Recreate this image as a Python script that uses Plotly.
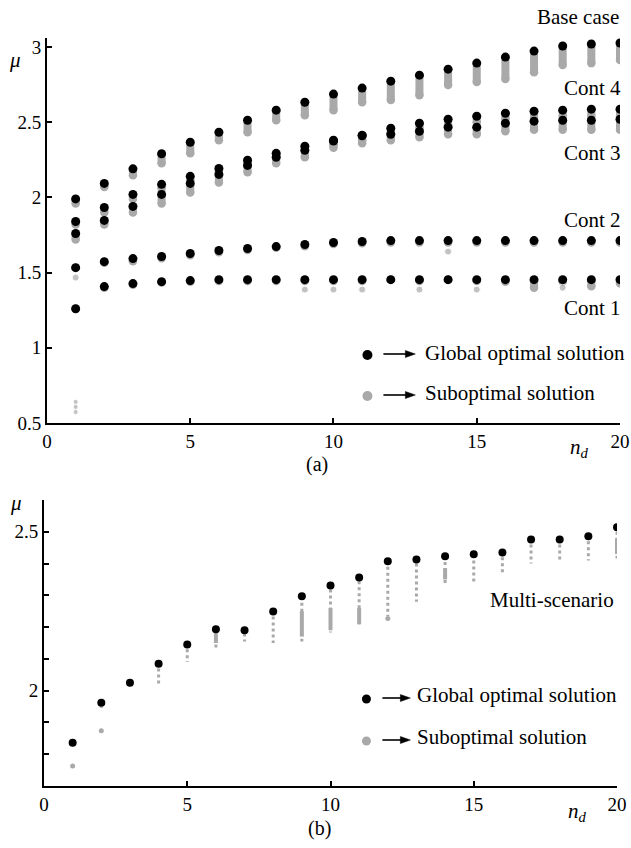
import plotly.graph_objects as go

# ---------------- data: panel (a) ----------------
nd = list(range(1, 21))
base_opt = [1.99, 2.093, 2.19, 2.29, 2.367, 2.433, 2.513, 2.58, 2.633, 2.687,
            2.727, 2.773, 2.813, 2.853, 2.893, 2.933, 2.973, 3.007, 3.02, 3.027]
cont4_opt = [1.84, 1.933, 2.02, 2.087, 2.14, 2.193, 2.247, 2.293, 2.34, 2.38,
             2.413, 2.46, 2.493, 2.52, 2.54, 2.56, 2.573, 2.58, 2.587, 2.587]
cont3_opt = [1.76, 1.847, 1.94, 2.02, 2.093, 2.153, 2.213, 2.267, 2.313, 2.375,
             2.41, 2.42, 2.44, 2.467, 2.467, 2.493, 2.507, 2.513, 2.513, 2.52]
cont2_opt = [1.533, 1.573, 1.593, 1.607, 1.627, 1.647, 1.66, 1.673, 1.687, 1.70,
             1.707, 1.713, 1.713, 1.713, 1.713, 1.713, 1.713, 1.713, 1.713, 1.713]
cont1_opt = [1.26, 1.407, 1.427, 1.44, 1.447, 1.453, 1.453, 1.453, 1.453, 1.453,
             1.453, 1.453, 1.453, 1.453, 1.453, 1.453, 1.453, 1.453, 1.453, 1.453]

# lowest suboptimal value of each connected chain
base_sub_low = [1.96, 2.07, 2.147, 2.227, 2.293, 2.38, 2.433, 2.513, 2.547, 2.58,
                2.633, 2.647, 2.68, 2.747, 2.767, 2.787, 2.833, 2.88, 2.893, 2.913]
cont4_sub_low = [1.82, 1.90, 1.99, 2.06, 2.11, 2.17, 2.22, 2.27, 2.31, 2.35,
                 2.38, 2.43, 2.46, 2.48, 2.50, 2.52, 2.53, 2.54, 2.54, 2.54]
cont3_sub_low = [1.72, 1.82, 1.90, 1.96, 2.033, 2.10, 2.167, 2.227, 2.267, 2.33,
                 2.36, 2.38, 2.40, 2.42, 2.42, 2.44, 2.45, 2.45, 2.45, 2.45]
cont2_sub_low = [1.533, 1.565, 1.575, 1.595, 1.615, 1.635, 1.65, 1.665, 1.675, 1.69,
                 1.695, 1.70, 1.70, 1.70, 1.70, 1.70, 1.70, 1.70, 1.70, 1.70]
cont1_sub_low = [1.26, 1.40, 1.42, 1.435, 1.44, 1.445, 1.445, 1.445, 1.445, 1.445,
                 1.445, 1.453, 1.445, 1.453, 1.445, 1.44, 1.40, 1.44, 1.41, 1.43]

# isolated suboptimal points in (a)
a_iso_nd = [1, 1, 1, 1, 14, 9, 10, 11, 13, 15, 18]
a_iso_mu = [1.467, 0.64, 0.607, 0.573, 1.64, 1.387, 1.387, 1.387, 1.387, 1.387, 1.40]
a_iso_big = [True, False, False, False, True, True, True, True, True, True, True]

# ---------------- data: panel (b) ----------------
multi_opt = [1.836, 1.962, 2.025, 2.085, 2.145, 2.193, 2.19, 2.249, 2.297, 2.331,
             2.356, 2.407, 2.413, 2.423, 2.429, 2.435, 2.476, 2.476, 2.486, 2.514]
multi_sub_top = [None, 1.95, 1.972, 2.07, 2.13, 2.183, 2.18, 2.233, 2.277, 2.318,
                 2.344, 2.39, 2.40, 2.405, 2.41, 2.42, 2.46, 2.46, 2.47, 2.50]
multi_sub_low = [None, 1.946, 1.972, 2.02, 2.09, 2.136, 2.155, 2.15, 2.155, 2.183,
                 2.208, 2.235, 2.28, 2.33, 2.34, 2.372, 2.40, 2.41, 2.41, 2.416]
# dense parts of suboptimal columns
dense_nd = [6, 9, 10, 11, 14, 20]
dense_top = [2.18, 2.25, 2.26, 2.26, 2.385, 2.48]
dense_low = [2.15, 2.17, 2.19, 2.21, 2.35, 2.43]
b_iso_nd = [1, 2, 12]
b_iso_mu = [1.763, 1.874, 2.227]

GREY = "#a9a9a9"
FONT = "Liberation Serif"

fig = go.Figure()


def chain(xs, tops, lows):
    X, Y = [], []
    for x, t, l in zip(xs, tops, lows):
        if t is None or l is None:
            continue
        X += [x, x, None]
        Y += [t, l, None]
    return X, Y


# ---- panel (a) suboptimal chains ----
for opt, low in [(base_opt, base_sub_low), (cont4_opt, cont4_sub_low),
                 (cont3_opt, cont3_sub_low), (cont2_opt, cont2_sub_low),
                 (cont1_opt, cont1_sub_low)]:
    X, Y = chain(nd, opt, low)
    fig.add_trace(go.Scatter(x=X, y=Y, mode="lines", line=dict(color=GREY, width=8),
                             xaxis="x", yaxis="y", hoverinfo="skip", showlegend=False))
    fig.add_trace(go.Scatter(x=nd, y=low, mode="markers",
                             marker=dict(color=GREY, size=8.5),
                             xaxis="x", yaxis="y", showlegend=False))

fig.add_trace(go.Scatter(x=a_iso_nd, y=a_iso_mu, mode="markers",
                         marker=dict(color=GREY, size=[7 if b else 5 for b in a_iso_big]),
                         xaxis="x", yaxis="y", showlegend=False))

for opt in [base_opt, cont4_opt, cont3_opt, cont2_opt, cont1_opt]:
    fig.add_trace(go.Scatter(x=nd, y=opt, mode="markers",
                             marker=dict(color="black", size=9),
                             xaxis="x", yaxis="y", showlegend=False))

# ---- panel (b) ----
X, Y = chain(nd, multi_sub_top, multi_sub_low)
fig.add_trace(go.Scatter(x=X, y=Y, mode="lines", line=dict(color=GREY, width=3, dash="dot"),
                         xaxis="x2", yaxis="y2", hoverinfo="skip", showlegend=False))
X, Y = chain(dense_nd, dense_top, dense_low)
fig.add_trace(go.Scatter(x=X, y=Y, mode="lines", line=dict(color=GREY, width=4),
                         xaxis="x2", yaxis="y2", hoverinfo="skip", showlegend=False))
fig.add_trace(go.Scatter(x=b_iso_nd, y=b_iso_mu, mode="markers",
                         marker=dict(color=GREY, size=5),
                         xaxis="x2", yaxis="y2", showlegend=False))
fig.add_trace(go.Scatter(x=nd, y=multi_opt, mode="markers",
                         marker=dict(color="black", size=8),
                         xaxis="x2", yaxis="y2", showlegend=False))

# ---------------- layout ----------------
# the photographed page shows horizontal positions slightly compressed; compensate
SX = 641 / 631
W, H = 641, 848
L, R, T, B = 43 * SX, 11 * SX, 38, 62
PW, PH = W - L - R, H - T - B


def px(x):
    return (x * SX - L) / PW


def py(y):
    return (H - B - y) / PH


axis_common = dict(showline=True, linecolor="black", linewidth=2, ticks="inside",
                   ticklen=5, tickwidth=1.5, tickcolor="black", showgrid=False,
                   zeroline=False, mirror=False,
                   tickfont=dict(family=FONT, size=19, color="black"))

fig.update_layout(
    width=W, height=H, margin=dict(l=L, r=R, t=T, b=B), autosize=False,
    plot_bgcolor="white", paper_bgcolor="white",
    xaxis=dict(domain=[px(46), px(620)], range=[0, 20], anchor="y",
               tickvals=[0, 5, 10, 15, 20], **axis_common),
    yaxis=dict(domain=[py(423), py(38)], range=[0.5, 3.06], anchor="x",
               tickvals=[0.5, 1, 1.5, 2, 2.5, 3], ticktext=["0.5", "1", "1.5", "2", "2.5", "3"],
               **axis_common),
    xaxis2=dict(domain=[px(43), px(617)], range=[0, 20], anchor="y2",
                tickvals=[0, 5, 10, 15, 20], **axis_common),
    yaxis2=dict(domain=[py(786), py(500)], range=[1.7, 2.6], anchor="x2",
                tickvals=[2.0, 2.5], ticktext=["2", "2.5"],
                minor=dict(tickmode="array", tickvals=[1.8, 1.9, 2.1, 2.2, 2.3, 2.4],
                           ticks="inside", ticklen=5, tickwidth=1.5, tickcolor="black",
                           showgrid=False),
                **axis_common),
)

ann = []


def text(x, y, s, anchor="center", size=21):
    ann.append(dict(x=px(x), y=py(y), xref="paper", yref="paper", text=s, showarrow=False,
                    xanchor=anchor, yanchor="middle",
                    font=dict(family=FONT, size=size, color="black")))


# panel (a) labels
text(621, 17, "Base case", "right")
text(623, 88, "Cont 4", "right")
text(623, 153, "Cont 3", "right")
text(623, 220, "Cont 2", "right")
text(623, 308, "Cont 1", "right")
text(423, 353, "Global optimal solution", "left")
text(423, 393, "Suboptimal solution", "left")
text(14, 60, "<i>μ</i>", size=21)
text(579, 448, "<i>n</i><sub><i>d</i></sub>", size=21)
text(316, 464, "(a)", size=20)

# panel (b) labels
text(552, 600, "Multi-scenario")
text(415, 695, "Global optimal solution", "left")
text(415, 737, "Suboptimal solution", "left")
text(15, 503, "<i>μ</i>", size=21)
text(577, 812, "<i>n</i><sub><i>d</i></sub>", size=21)
text(319, 829, "(b)", size=20)

fig.update_layout(annotations=ann)

shapes = []
# legend dots
for (cx, cy, col, r) in [(367, 355, "black", 5), (367, 396, GREY, 5),
                         (366, 699, "black", 4.5), (366, 741, GREY, 4.5)]:
    shapes.append(dict(type="circle", xref="paper", yref="paper",
                       x0=px(cx - r), x1=px(cx + r), y0=py(cy + r), y1=py(cy - r),
                       fillcolor=col, line=dict(width=0)))
# legend arrows
for (x0, x1, y) in [(383, 415, 354), (383, 415, 395), (382, 410, 698), (382, 410, 740)]:
    shapes.append(dict(type="line", xref="paper", yref="paper",
                       x0=px(x0), x1=px(x1 - 6), y0=py(y), y1=py(y),
                       line=dict(color="black", width=1.6)))
    path = "M {a},{b} L {c},{d} L {e},{f} Z".format(
        a=px(x1), b=py(y), c=px(x1 - 10), d=py(y - 3.5), e=px(x1 - 10), f=py(y + 3.5))
    shapes.append(dict(type="path", xref="paper", yref="paper", path=path,
                       fillcolor="black", line=dict(color="black", width=0.5)))
fig.update_layout(shapes=shapes)

fig.write_html("out.html", config={"displayModeBar": False},
               post_script="document.body.style.margin='0';document.body.style.overflow='hidden';")
